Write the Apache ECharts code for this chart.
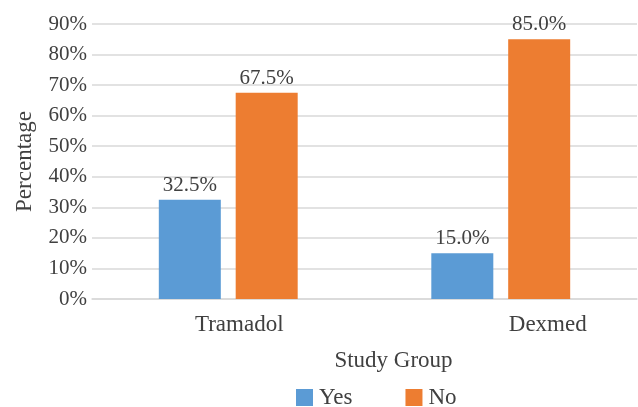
<!DOCTYPE html>
<html><head><meta charset="utf-8">
<script src="https://cdn.jsdelivr.net/npm/echarts@6/dist/echarts.min.js"></script>
<style>html,body{margin:0;padding:0;background:#fff}#c{width:638px;height:407px}</style>
</head><body><div id="c"></div>
<script>
var categories = ['Tramadol', 'Dexmed'];
var yesValues = [32.5, 15.0];
var noValues = [67.5, 85.0];
var seriesNames = ['Yes', 'No'];
var yTicks = [0, 10, 20, 30, 40, 50, 60, 70, 80, 90];

var FONT = '"Liberation Serif", serif';
var TXT = '#404040';
var chart = echarts.init(document.getElementById('c'), null, {renderer: 'canvas'});
var labelCfg = {
  show: true, position: 'top', distance: 4,
  fontFamily: FONT, fontSize: 21, color: TXT,
  formatter: function (p) { return p.value.toFixed(1) + '%'; }
};
chart.setOption({
  animation: false,
  grid: {left: 92, right: 1, top: 24, bottom: 108},
  legend: {
    data: seriesNames, left: 291, top: 381, itemWidth: 17, itemHeight: 17, itemGap: 53,
    icon: 'rect',
    textStyle: {fontFamily: FONT, fontSize: 23, color: TXT, padding: [0, 0, 0, 1]}
  },
  xAxis: {
    type: 'category', data: categories,
    axisLine: {show: true, lineStyle: {color: '#d9d9d9', width: 1.5}},
    axisTick: {show: false},
    axisLabel: {
      margin: 14,
      formatter: function (v, i) { return '{c' + i + '|' + v + '}'; },
      rich: {
        c0: {fontFamily: FONT, fontSize: 23, color: TXT, padding: [0, 0, 0, 22]},
        c1: {fontFamily: FONT, fontSize: 23, color: TXT, padding: [0, 0, 0, 94]}
      }
    },
    name: 'Study Group', nameLocation: 'middle', nameGap: 50,
    nameTextStyle: {fontFamily: FONT, fontSize: 23, color: TXT, padding: [0, 0, 0, 58]}
  },
  yAxis: {
    type: 'value', min: yTicks[0], max: yTicks[yTicks.length - 1], interval: 10,
    axisLine: {show: false}, axisTick: {show: false},
    splitLine: {lineStyle: {color: '#d9d9d9', width: 1.5}},
    axisLabel: {margin: 5, fontFamily: FONT, fontSize: 21, color: TXT, formatter: '{value}%'},
    name: 'Percentage', nameLocation: 'middle', nameGap: 56,
    nameTextStyle: {fontFamily: FONT, fontSize: 23, color: TXT}
  },
  series: [
    {name: seriesNames[0], type: 'bar', data: yesValues, barWidth: 62, barGap: '24%',
     itemStyle: {color: '#5B9BD5'}, label: labelCfg},
    {name: seriesNames[1], type: 'bar', data: noValues, barWidth: 62, barGap: '24%',
     itemStyle: {color: '#ED7D31'}, label: labelCfg}
  ]
});
</script></body></html>
